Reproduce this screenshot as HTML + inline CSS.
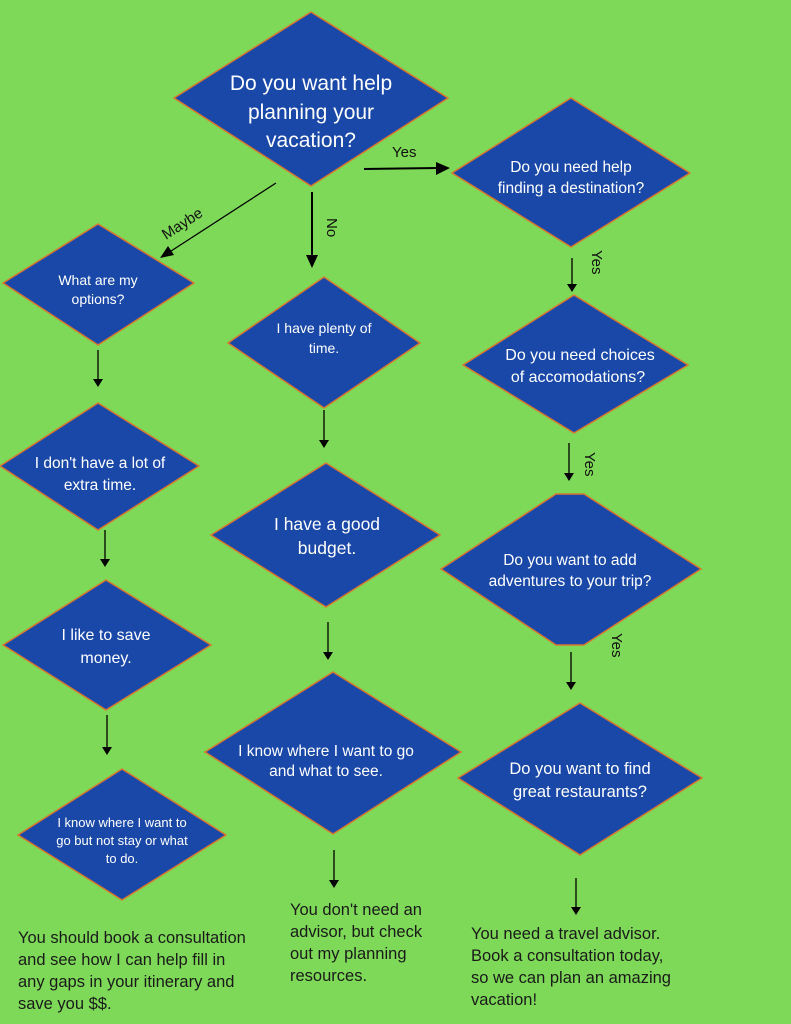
<!DOCTYPE html>
<html><head><meta charset="utf-8"><style>
html,body{margin:0;padding:0;background:#7dd957;}
svg{display:block}
.d{fill:#1a48a8;stroke:#d9772f;stroke-width:1.5}
.t{fill:#fff;font-family:"Liberation Sans",sans-serif;text-anchor:middle}
.b{fill:#1a1a1a;font-family:"Liberation Sans",sans-serif;font-size:16.5px}
.l{stroke:#000;stroke-width:1.3}
.L{stroke:#000;stroke-width:2}
</style></head><body>
<svg width="791" height="1024" viewBox="0 0 791 1024" xmlns="http://www.w3.org/2000/svg">
<rect width="791" height="1024" fill="#7dd957"/>
<polygon class="d" points="174,98 311,12 448,98 311,186"/>
<polygon class="d" points="452,173 571,98 690,173 571,247"/>
<polygon class="d" points="3,283 98,224 194,283 98,345"/>
<polygon class="d" points="228,343 324,277 420,343 324,408"/>
<polygon class="d" points="463,365 574,295 688,365 574,433"/>
<polygon class="d" points="0,466 98,403 199,466 98,530"/>
<polygon class="d" points="211,535 326,463 440,535 326,607"/>
<polygon class="d" points="441,569 556,494 584,494 701,569 584,645 556,645"/>
<polygon class="d" points="3,645 106,580 211,645 106,710"/>
<polygon class="d" points="205,752 333,672 461,752 333,834"/>
<polygon class="d" points="458,778 580,703 702,778 580,855"/>
<polygon class="d" points="18,835 122,769 226,835 122,900"/>
<text class="t" font-size="21"><tspan x="311" y="90">Do you want help</tspan><tspan x="311" y="119">planning your</tspan><tspan x="311" y="147">vacation?</tspan></text>
<text class="t" font-size="15.5"><tspan x="571" y="172">Do you need help</tspan><tspan x="571" y="193">finding a destination?</tspan></text>
<text class="t" font-size="14"><tspan x="98" y="285">What are my</tspan><tspan x="98" y="304">options?</tspan></text>
<text class="t" font-size="14"><tspan x="324" y="333">I have plenty of</tspan><tspan x="324" y="353">time.</tspan></text>
<text class="t" font-size="16"><tspan x="580" y="360">Do you need choices</tspan><tspan x="578" y="382">of accomodations?</tspan></text>
<text class="t" font-size="15.5"><tspan x="100" y="468">I don't have a lot of</tspan><tspan x="100" y="490">extra time.</tspan></text>
<text class="t" font-size="17.5"><tspan x="327" y="530">I have a good</tspan><tspan x="327" y="554">budget.</tspan></text>
<text class="t" font-size="15.5"><tspan x="570" y="565">Do you want to add</tspan><tspan x="570" y="586">adventures to your trip?</tspan></text>
<text class="t" font-size="16"><tspan x="106" y="640">I like to save</tspan><tspan x="106" y="663">money.</tspan></text>
<text class="t" font-size="15.5"><tspan x="326" y="756">I know where I want to go</tspan><tspan x="326" y="776">and what to see.</tspan></text>
<text class="t" font-size="16.5"><tspan x="580" y="774">Do you want to find</tspan><tspan x="580" y="797">great restaurants?</tspan></text>
<text class="t" font-size="13"><tspan x="122" y="827">I know where I want to</tspan><tspan x="122" y="845">go but not stay or what</tspan><tspan x="122" y="863">to do.</tspan></text>
<line class="L" x1="364" y1="169" x2="438" y2="168"/><polygon points="450,168 436,162 436,175"/>
<line class="l" x1="276" y1="183" x2="168" y2="253"/><polygon points="160,258 168,246 174,255"/>
<line class="L" x1="312" y1="192" x2="312" y2="258"/><polygon points="312,268 306,255 318,255"/>
<g>
<line class="l" x1="98" y1="350" x2="98" y2="380"/><polygon points="98,387 93,379 103,379"/>
<line class="l" x1="105" y1="530" x2="105" y2="560"/><polygon points="105,567 100,559 110,559"/>
<line class="l" x1="107" y1="715" x2="107" y2="748"/><polygon points="107,755 102,747 112,747"/>
<line class="l" x1="324" y1="410" x2="324" y2="441"/><polygon points="324,448 319,440 329,440"/>
<line class="l" x1="328" y1="622" x2="328" y2="653"/><polygon points="328,660 323,652 333,652"/>
<line class="l" x1="334" y1="850" x2="334" y2="881"/><polygon points="334,888 329,880 339,880"/>
<line class="l" x1="572" y1="258" x2="572" y2="285"/><polygon points="572,292 567,284 577,284"/>
<line class="l" x1="569" y1="443" x2="569" y2="474"/><polygon points="569,481 564,473 574,473"/>
<line class="l" x1="571" y1="652" x2="571" y2="683"/><polygon points="571,690 566,682 576,682"/>
<line class="l" x1="576" y1="878" x2="576" y2="908"/><polygon points="576,915 571,907 581,907"/>
</g>
<g font-family="Liberation Sans,sans-serif" font-size="15" fill="#111">
<text x="392" y="157">Yes</text>
<text transform="translate(166,240) rotate(-33)">Maybe</text>
<text transform="translate(327,218) rotate(90)">No</text>
<text transform="translate(592,250) rotate(90)">Yes</text>
<text transform="translate(585,452) rotate(90)">Yes</text>
<text transform="translate(612,633) rotate(90)">Yes</text>
</g>
<text class="b"><tspan x="18" y="943">You should book a consultation</tspan><tspan x="18" y="965">and see how I can help fill in</tspan><tspan x="18" y="987">any gaps in your itinerary and</tspan><tspan x="18" y="1009">save you $$.</tspan></text>
<text class="b"><tspan x="290" y="915">You don't need an</tspan><tspan x="290" y="937">advisor, but check</tspan><tspan x="290" y="959">out my planning</tspan><tspan x="290" y="981">resources.</tspan></text>
<text class="b"><tspan x="471" y="939">You need a travel advisor.</tspan><tspan x="471" y="961">Book a consultation today,</tspan><tspan x="471" y="983">so we can plan an amazing</tspan><tspan x="471" y="1005">vacation!</tspan></text>
</svg>
</body></html>
